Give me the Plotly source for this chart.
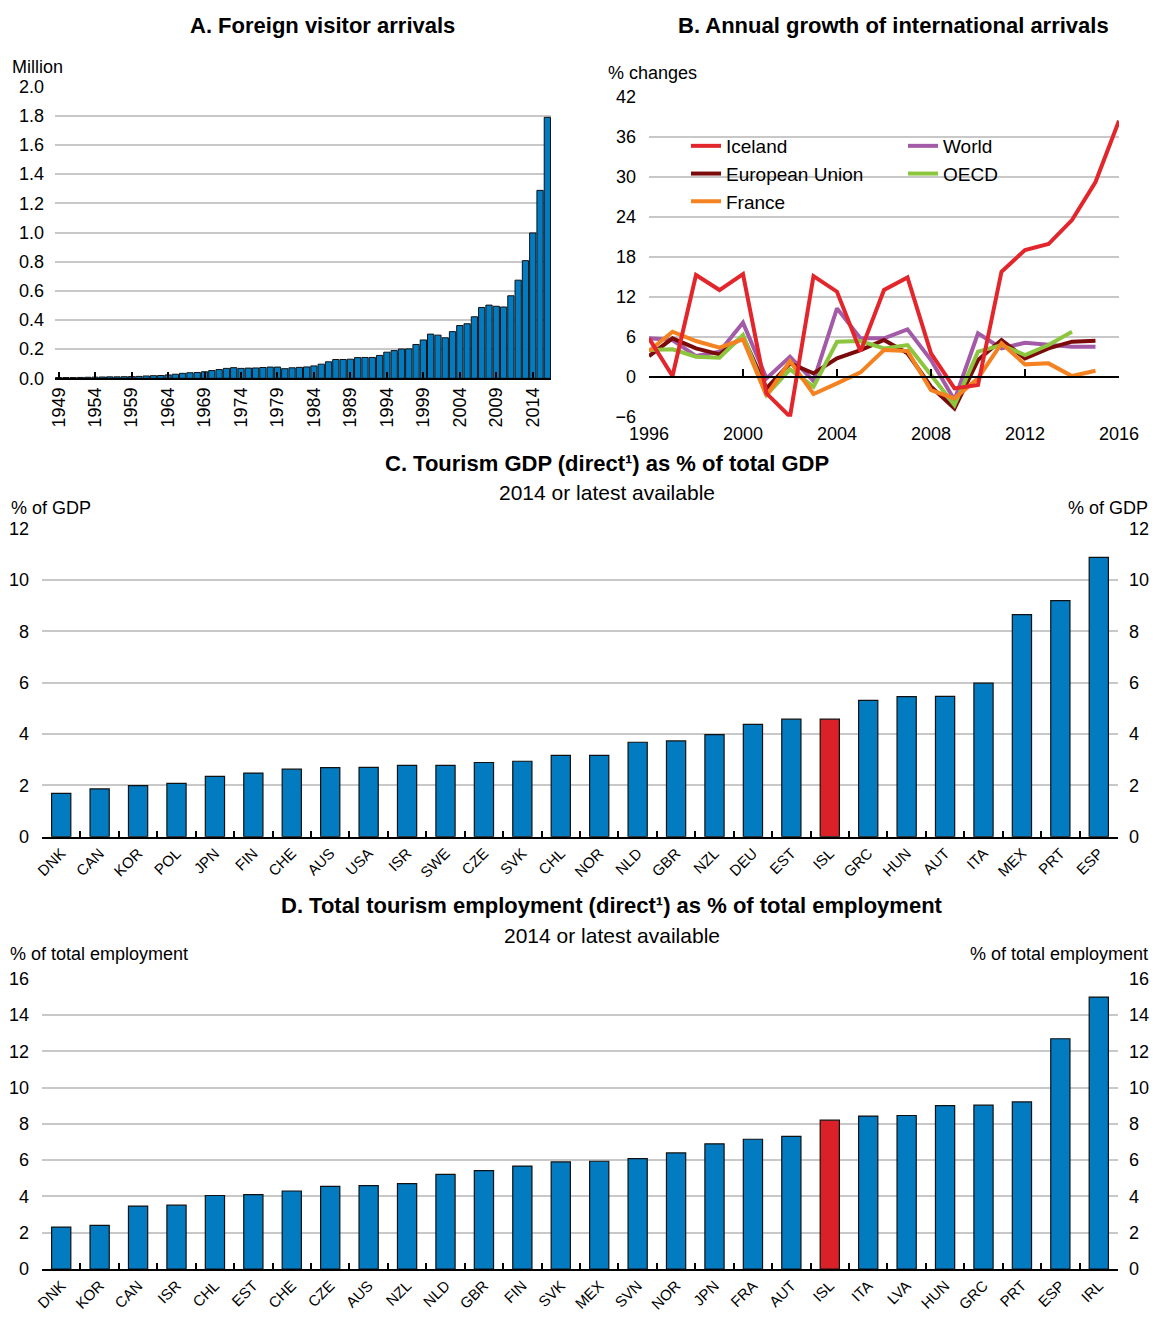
import plotly.graph_objects as go

# ---------------- DATA ----------------
years_a = list(range(1949, 2017))
arrivals_million = [
    0.005, 0.005, 0.005, 0.006, 0.007, 0.008, 0.009, 0.010, 0.010, 0.011,   # 1949-1958
    0.012, 0.013, 0.016, 0.018, 0.019, 0.023, 0.028, 0.034, 0.038, 0.040,   # 1959-1968
    0.045, 0.053, 0.060, 0.068, 0.073, 0.068, 0.070, 0.071, 0.074, 0.077,   # 1969-1978
    0.077, 0.066, 0.072, 0.075, 0.078, 0.085, 0.097, 0.113, 0.129, 0.129,   # 1979-1988
    0.131, 0.142, 0.143, 0.143, 0.157, 0.179, 0.190, 0.201, 0.202, 0.232,   # 1989-1998
    0.263, 0.303, 0.296, 0.278, 0.320, 0.362, 0.374, 0.422, 0.486, 0.502,   # 1999-2008
    0.494, 0.489, 0.566, 0.673, 0.807, 0.997, 1.289, 1.790,                 # 2009-2016
]
years_a_ticks = list(range(1949, 2017, 5))

years_b = list(range(1996, 2017))
iceland = [5.75, 0.1, 15.25, 13.0, 15.4, -2.5, -6.0, 15.1, 12.75, 3.8, 13.0,
           14.9, 3.5, -1.75, -1.25, 15.75, 19.0, 19.9, 23.5, 29.2, 38.4]
world = [5.75, 5.5, 3.1, 3.75, 8.1, -0.25, 3.0, -0.65, 10.25, 5.75, 5.75,
         7.1, 2.5, -3.5, 6.5, 4.25, 5.1, 4.75, 4.5, 4.5, None]
european_union = [3.1, 5.75, 4.25, 3.35, 6.0, -1.75, 2.0, 0.5, 2.75, 4.0, 5.5,
                  3.5, -1.5, -4.75, 2.5, 5.5, 2.75, 4.25, 5.25, 5.4, None]
oecd = [4.0, 4.1, 3.0, 2.85, 6.25, -2.75, 1.1, -1.5, 5.25, 5.35, 4.25,
        4.75, 0.25, -4.25, 3.75, 4.75, 3.25, 4.75, 6.75, None, None]
france = [3.85, 6.75, 5.35, 4.35, 5.6, -2.85, 2.35, -2.6, -1.0, 0.65, 4.0,
          3.85, -2.0, -3.25, -0.25, 5.0, 1.85, 2.0, 0.1, 0.9, None]
years_b_ticks = [1996, 2000, 2004, 2008, 2012, 2016]
b_ticks = [-6, 0, 6, 12, 18, 24, 30, 36, 42]

countries_c = ["DNK", "CAN", "KOR", "POL", "JPN", "FIN", "CHE", "AUS", "USA", "ISR",
               "SWE", "CZE", "SVK", "CHL", "NOR", "NLD", "GBR", "NZL", "DEU", "EST",
               "ISL", "GRC", "HUN", "AUT", "ITA", "MEX", "PRT", "ESP"]
gdp_share = [1.69, 1.86, 1.99, 2.08, 2.35, 2.48, 2.63, 2.69, 2.70, 2.78,
             2.78, 2.89, 2.94, 3.17, 3.17, 3.68, 3.73, 3.98, 4.38, 4.58,
             4.58, 5.31, 5.46, 5.47, 5.98, 8.65, 9.20, 10.88]
c_ticks = [0, 2, 4, 6, 8, 10, 12]

countries_d = ["DNK", "KOR", "CAN", "ISR", "CHL", "EST", "CHE", "CZE", "AUS", "NZL",
               "NLD", "GBR", "FIN", "SVK", "MEX", "SVN", "NOR", "JPN", "FRA", "AUT",
               "ISL", "ITA", "LVA", "HUN", "GRC", "PRT", "ESP", "IRL"]
employment_share = [2.31, 2.40, 3.47, 3.52, 4.05, 4.10, 4.30, 4.55, 4.60, 4.71,
                    5.21, 5.42, 5.67, 5.90, 5.94, 6.08, 6.40, 6.90, 7.15, 7.31,
                    8.20, 8.43, 8.46, 9.00, 9.03, 9.21, 12.69, 14.99]
d_ticks = [0, 2, 4, 6, 8, 10, 12, 14, 16]

HIGHLIGHT = "ISL"

# ---------------- STYLE ----------------
OFF = 8                      # default page margin of the html body
W, H = 1158 - 2 * OFF, 1322 - 2 * OFF
FONT = "Liberation Sans Narrow, Arial Narrow, Liberation Sans, Arial, sans-serif"
BLUE = "#037BC1"
RED_BAR = "#DA2128"
GRID = "#C8C8C8"
COL = {"Iceland": "#E3262B", "World": "#A35BA8", "European Union": "#7B0A0A",
       "OECD": "#8CC63F", "France": "#F58220"}


def px(x):
    return (x - OFF) / W


def py(y):
    return 1 - (y - OFF) / H


def xd(a, b):
    return [px(a), px(b)]


def yd(top, bottom):
    return [py(bottom), py(top)]


fig = go.Figure()

# Panel A
fig.add_trace(go.Bar(x=years_a, y=arrivals_million, width=0.86,
                     marker=dict(color=BLUE, line=dict(color="#111111", width=1)),
                     xaxis="x", yaxis="y", showlegend=False))

# Panel B  (legend: column 1 = Iceland, EU, France ; column 2 = World, OECD)
series_b = [("World", world, "legend2", 1), ("European Union", european_union, "legend", 2),
            ("OECD", oecd, "legend2", 2), ("France", france, "legend", 3), ("Iceland", iceland, "legend", 1)]
for name, vals, leg, rank in series_b:
    fig.add_trace(go.Scatter(x=years_b, y=vals, mode="lines", name=name, legend=leg, legendrank=rank,
                             legendgroup=name,
                             line=dict(color=COL[name], width=4),
                             xaxis="x7" if name == "Iceland" else "x2", yaxis="y2"))

# Panel C
fig.add_trace(go.Bar(x=countries_c, y=[v if c != HIGHLIGHT else None for c, v in zip(countries_c, gdp_share)],
                     marker=dict(color=BLUE, line=dict(color="#111111", width=1.2)),
                     xaxis="x3", yaxis="y3", showlegend=False))
fig.add_trace(go.Bar(x=[c for c in countries_c if c == HIGHLIGHT],
                     y=[v for c, v in zip(countries_c, gdp_share) if c == HIGHLIGHT],
                     marker=dict(color=RED_BAR, line=dict(color="#111111", width=1.2)),
                     xaxis="x3", yaxis="y5", showlegend=False))

# Panel D
fig.add_trace(go.Bar(x=countries_d, y=[v if c != HIGHLIGHT else None for c, v in zip(countries_d, employment_share)],
                     marker=dict(color=BLUE, line=dict(color="#111111", width=1.2)),
                     xaxis="x4", yaxis="y4", showlegend=False))
fig.add_trace(go.Bar(x=[c for c in countries_d if c == HIGHLIGHT],
                     y=[v for c, v in zip(countries_d, employment_share) if c == HIGHLIGHT],
                     marker=dict(color=RED_BAR, line=dict(color="#111111", width=1.2)),
                     xaxis="x4", yaxis="y6", showlegend=False))

tickfont = dict(family=FONT, size=18, color="black")
catfont = dict(family=FONT, size=15, color="black")

# domains
yA = yd(86.7, 378.3)
yB = yd(96.7, 416.7)
yC = yd(528.7, 836.7)
yD = yd(978.7, 1269)
zero_pos_b = yB[0] + (0 - (-6)) / 48 * (yB[1] - yB[0])

common_y = dict(showgrid=True, gridcolor=GRID, gridwidth=2, zeroline=False, showline=False, ticks="",
                tickfont=tickfont, automargin=False)
right_y = dict(side="right", showgrid=False, zeroline=False, showline=False, ticks="",
               tickfont=tickfont, ticklabelstandoff=10, automargin=False)
cat_x = dict(range=[-0.5, 27.5], tickangle=-45, ticks="inside", tickson="boundaries", ticklen=6,
             tickwidth=1.5, tickcolor="black", showline=True, linecolor="black", linewidth=2,
             showgrid=False, tickfont=catfont, automargin=False)
legend_common = dict(orientation="v", xanchor="left", yanchor="top", bgcolor="rgba(0,0,0,0)",
                     font=dict(family=FONT, size=19, color="black"), tracegroupgap=0,
                     traceorder="grouped", itemwidth=30)

fig.update_layout(
    width=W, height=H, margin=dict(l=0, r=0, t=0, b=0, autoexpand=False),
    paper_bgcolor="white", plot_bgcolor="white",
    font=dict(family=FONT, size=18, color="black"),
    bargap=0.5,
    xaxis=dict(domain=xd(55, 551), anchor="y", range=[1948.5, 2016.5], tickmode="array",
               tickvals=years_a_ticks, tickangle=-90, ticks="inside", ticklen=6, tickcolor="black",
               tickwidth=1.5, showline=True, linecolor="black", linewidth=2, showgrid=False,
               tickfont=tickfont, zeroline=False, automargin=False),
    yaxis=dict(domain=yA, anchor="x", range=[0, 2], dtick=0.2, tickformat=".1f",
               ticklabelstandoff=10, **common_y),
    xaxis2=dict(domain=xd(649, 1119), anchor="y2", range=[1996, 2016], tickmode="array",
                tickvals=years_b_ticks, showline=False, ticks="", showgrid=False, zeroline=False,
                tickfont=tickfont, ticklabelstandoff=4, automargin=False),
    xaxis7=dict(overlaying="x2", anchor="free", position=zero_pos_b, range=[1996, 2016],
                tickmode="array", tickvals=years_b_ticks, showticklabels=False, ticks="inside",
                ticklen=7, tickwidth=1.5, tickcolor="black", showline=True, linecolor="black",
                linewidth=2, showgrid=False, zeroline=False, automargin=False),
    yaxis2=dict(domain=yB, anchor="x2", range=[-6, 42], tickmode="array", tickvals=b_ticks,
                ticklabelstandoff=12, **common_y),
    xaxis3=dict(domain=xd(42, 1118), anchor="y3", **cat_x),
    yaxis3=dict(domain=yC, anchor="x3", range=[0, 12], tickmode="array", tickvals=c_ticks,
                ticklabelstandoff=12, **common_y),
    yaxis5=dict(overlaying="y3", anchor="x3", range=[0, 12], tickmode="array", tickvals=c_ticks, **right_y),
    xaxis4=dict(domain=xd(42, 1118), anchor="y4", **cat_x),
    yaxis4=dict(domain=yD, anchor="x4", range=[0, 16], tickmode="array", tickvals=d_ticks,
                ticklabelstandoff=12, **common_y),
    yaxis6=dict(overlaying="y4", anchor="x4", range=[0, 16], tickmode="array", tickvals=d_ticks, **right_y),
    legend=dict(x=px(686), y=py(127), **legend_common),
    legend2=dict(x=px(903), y=py(127), **legend_common),
)


def ann(text, x, y, size=18, xanchor="left", bold=False):
    fig.add_annotation(text=f"<b>{text}</b>" if bold else text, x=px(x), y=py(y), xref="paper",
                       yref="paper", xanchor=xanchor, yanchor="middle", showarrow=False,
                       font=dict(family=FONT, size=size, color="black"))


ann("A. Foreign visitor arrivals", 322, 25, size=22, xanchor="center", bold=True)
ann("B. Annual growth of international arrivals", 893, 25, size=22, xanchor="center", bold=True)
ann("C. Tourism GDP (direct¹) as % of total GDP", 607, 463, size=22, xanchor="center", bold=True)
ann("2014 or latest available", 607, 492, size=21, xanchor="center")
ann("D. Total tourism employment (direct¹) as % of total employment", 612, 905, size=22, xanchor="center", bold=True)
ann("2014 or latest available", 612, 935, size=21, xanchor="center")
ann("Million", 10, 67)
ann("% changes", 606, 73)
ann("% of GDP", 9, 508)
ann("% of GDP", 1150, 508, xanchor="right")
ann("% of total employment", 8, 954)
ann("% of total employment", 1150, 954, xanchor="right")

fig.write_html("out.html")
